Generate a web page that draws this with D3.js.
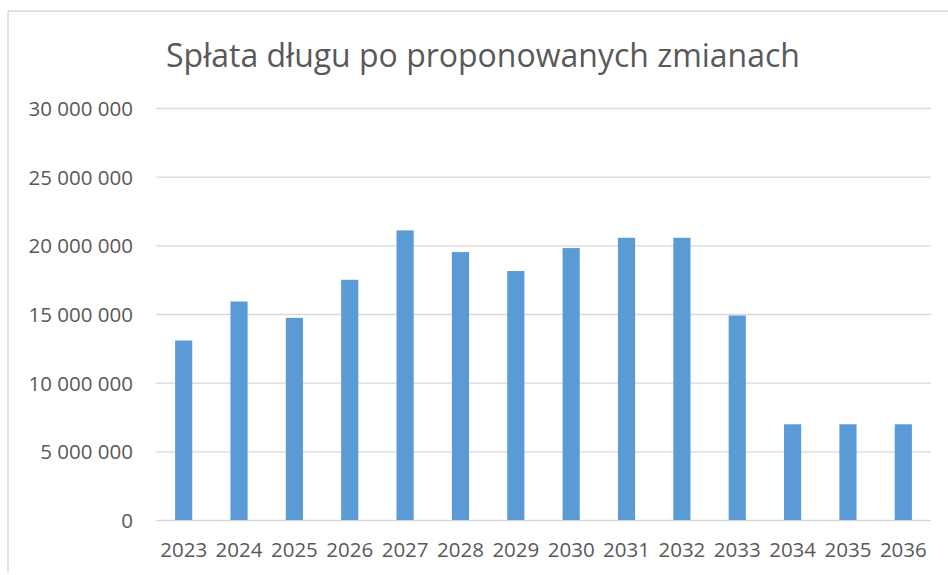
<!DOCTYPE html>
<html>
<head>
<meta charset="utf-8">
<script src="https://cdn.jsdelivr.net/npm/d3@7"></script>
<style>
  body { margin: 0; background: #fff; }
  .title { font-family: "Open Sans", sans-serif; fill: #595959; }
  .tick text { font-family: "Open Sans", sans-serif; fill: #595959; font-size: 20.5px; }
</style>
</head>
<body>
<div id="chart"></div>
<script>
// chart data
const years = ["2023", "2024", "2025", "2026", "2027", "2028", "2029",
               "2030", "2031", "2032", "2033", "2034", "2035", "2036"];
const payments = [13070000, 15910000, 14720000, 17490000, 21090000, 19510000, 18130000,
                  19800000, 20550000, 20550000, 14890000, 6970000, 6970000, 6970000];
const yTicks = [0, 5000000, 10000000, 15000000, 20000000, 25000000, 30000000];
const titleText = "Spłata długu po proponowanych zmianach";

const W = 948, H = 575;
const margin = {top: 108, right: 17, bottom: 55, left: 156};
const width = W - margin.left - margin.right,
      height = H - margin.top - margin.bottom;

const svg = d3.select("#chart")
  .append("svg")
  .attr("width", W)
  .attr("height", H);

// frame of the chart (only top and left edges visible)
svg.append("line")
  .attr("x1", 8).attr("x2", W).attr("y1", 11).attr("y2", 11)
  .attr("stroke", "#d9d9d9").attr("stroke-width", 1.5);
svg.append("line")
  .attr("x1", 8).attr("x2", 8).attr("y1", 11).attr("y2", 573)
  .attr("stroke", "#d9d9d9").attr("stroke-width", 1.5);

const title = svg.append("text")
  .attr("class", "title")
  .attr("x", 483)
  .attr("y", 67)
  .attr("text-anchor", "middle")
  .style("font-size", "30px")
  .text(titleText);
// fit the title to its width in the reference
const tw = title.node().getComputedTextLength();
title.style("font-size", (30 * 634 / tw) + "px");

const g = svg.append("g")
  .attr("transform", `translate(${margin.left},${margin.top})`);

const x = d3.scaleBand()
  .domain(years)
  .range([0, width])
  .paddingInner(0.69)
  .paddingOuter(0.345);

const y = d3.scaleLinear()
  .domain([0, 30000000])
  .range([height, 0]);

const fmt = d => d3.format(",")(d).replace(/,/g, " ");

// grid + y labels
g.append("g")
  .call(d3.axisLeft(y)
    .tickValues(yTicks)
    .tickSize(-width)
    .tickPadding(23)
    .tickFormat(fmt))
  .call(a => a.select(".domain").remove())
  .call(a => a.selectAll(".tick line").attr("stroke", "#d9d9d9").attr("stroke-width", 1.4))
  .call(a => a.selectAll(".tick text").attr("dy", "0.36em"));

// bars
g.selectAll(".bar")
  .data(payments)
  .enter()
  .append("rect")
  .attr("class", "bar")
  .attr("x", (d, i) => x(years[i]))
  .attr("y", d => y(d))
  .attr("width", x.bandwidth())
  .attr("height", d => height - y(d))
  .attr("fill", "#5b9bd5");

// x labels
g.append("g")
  .attr("transform", `translate(0,${height})`)
  .call(d3.axisBottom(x).tickSize(0).tickPadding(22))
  .call(a => a.select(".domain").remove());
</script>
</body>
</html>
